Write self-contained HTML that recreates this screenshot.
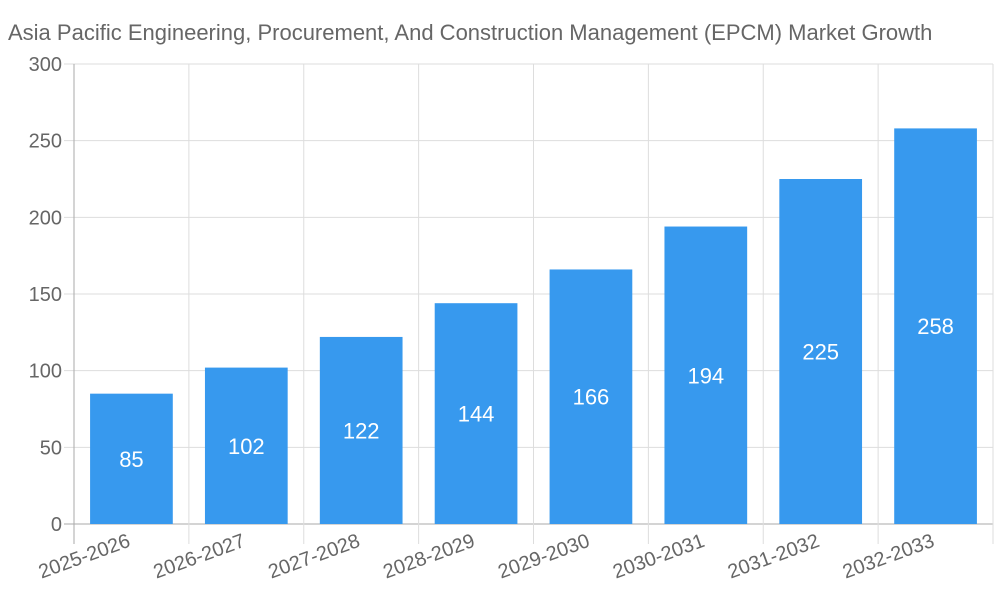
<!DOCTYPE html>
<html><head><meta charset="utf-8"><style>body{margin:0;background:#fff}svg{display:block;font-family:"Liberation Sans",sans-serif}</style></head>
<body>
<svg id="chart" width="1000" height="600" viewBox="0 0 1000 600">
<text x="8" y="40" font-size="22" fill="#666">Asia Pacific Engineering, Procurement, And Construction Management (EPCM)  Market Growth</text>
<g id="grid"></g><g id="bars"></g><g id="labels"></g>
</svg>
<script>
const categories=["2025-2026","2026-2027","2027-2028","2028-2029","2029-2030","2030-2031","2031-2032","2032-2033"];
const values=[85,102,122,144,166,194,225,258];
const yTicks=[0,50,100,150,200,250,300];
const NS="http://www.w3.org/2000/svg";
const L=74,R=993,T=64,B=524,maxV=300;
const bw=(R-L)/categories.length;
const y=v=>B-(v/maxV)*(B-T);
const x=i=>L+i*bw;
function mk(tag,attrs,parent,txt){const e=document.createElementNS(NS,tag);for(const k in attrs)e.setAttribute(k,attrs[k]);if(txt!==undefined)e.textContent=txt;document.getElementById(parent).appendChild(e);return e;}
yTicks.forEach(t=>{
 const g=mk('line',{x1:L-10,x2:R,y1:y(t),y2:y(t),stroke:t===0?'#aaa':'#ddd','stroke-width':1},'grid');
 
 
 const lb=mk('text',{x:L-12,y:y(t)+7,'text-anchor':'end','font-size':20,fill:'#666'},'labels',String(t));
 
 
});
for(let i=0;i<=categories.length;i++){
 const g=mk('line',{x1:x(i),x2:x(i),y1:T,y2:B+20,stroke:i===0?'#aaa':'#ddd','stroke-width':1},'grid');
 
 
}
categories.forEach((c,i)=>{
 const pad=bw*0.14;
 const r=mk('rect',{x:x(i)+pad,y:y(values[i]),width:bw-2*pad,height:B-y(values[i]),fill:'#3799ee'},'bars');
 
 
 const cx=x(i)+bw/2;
 const v=mk('text',{x:cx,y:(y(values[i])+B)/2+8,'text-anchor':'middle','font-size':22,fill:'#fff'},'labels',String(values[i]));
 
 
 const xl=mk('text',{x:cx,y:546,'text-anchor':'end','font-size':20,fill:'#666',transform:`rotate(-20 ${cx} 546)`},'labels',c);
 
 
});
</script>
</body></html>
